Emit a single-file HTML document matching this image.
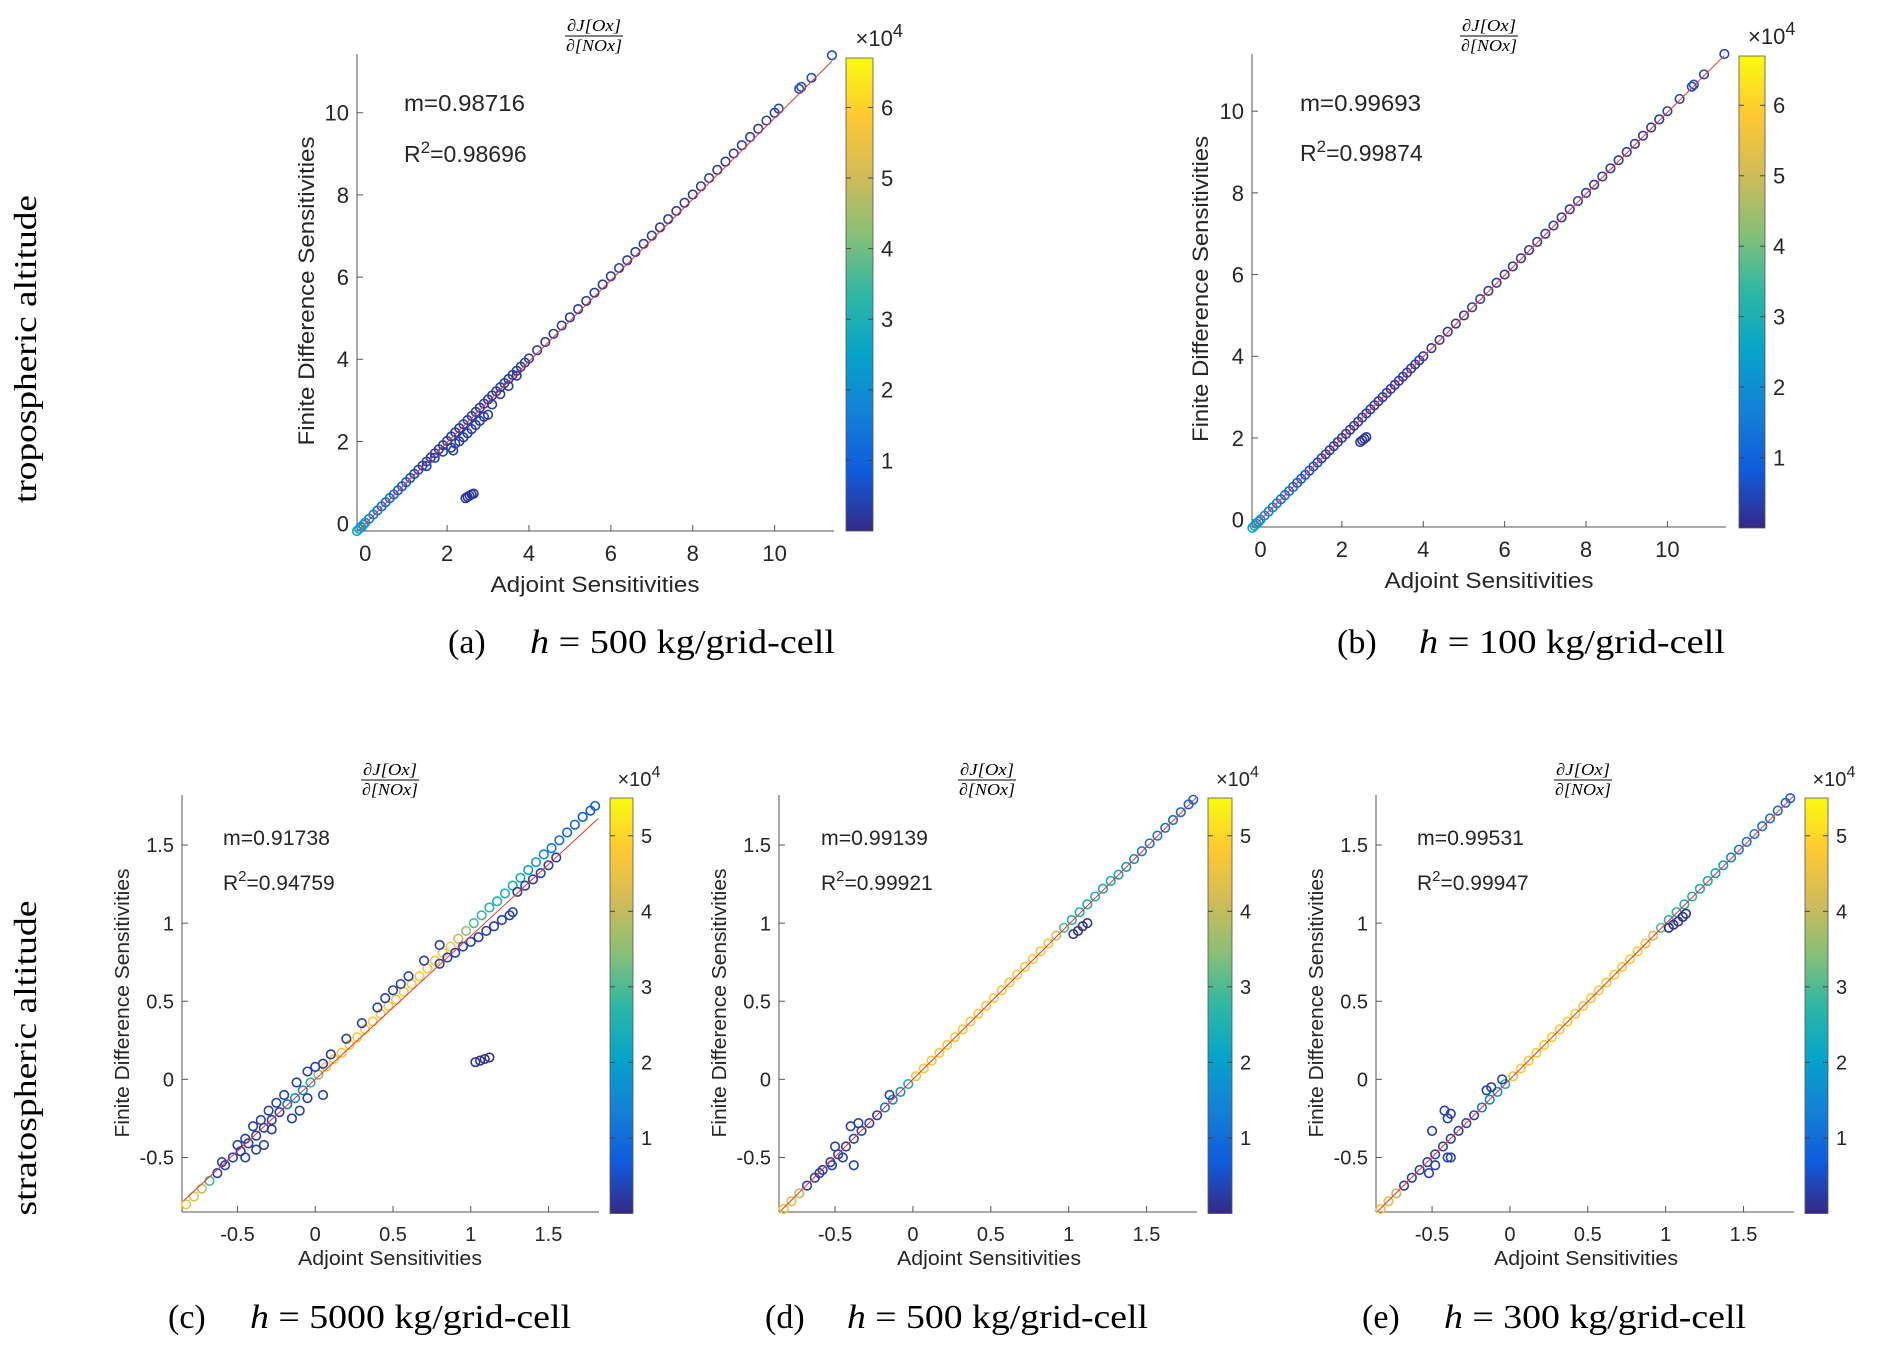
<!DOCTYPE html>
<html><head><meta charset="utf-8">
<style>
html,body{margin:0;padding:0;background:#fff;}
svg{display:block;}
text{font-family:"Liberation Sans",Arial,sans-serif;fill:#262626;}
.serif{font-family:"Liberation Serif","Times New Roman",serif;fill:#000;}
</style></head>
<body>
<svg id="fig" width="1893" height="1355" viewBox="0 0 1893 1355" xmlns="http://www.w3.org/2000/svg">
<defs>
<linearGradient id="parula" x1="0" y1="1" x2="0" y2="0">
<stop offset="0" stop-color="#352a87"/><stop offset="0.125" stop-color="#0f5cdd"/>
<stop offset="0.25" stop-color="#1481d6"/><stop offset="0.375" stop-color="#06a4ca"/>
<stop offset="0.5" stop-color="#2eb7a4"/><stop offset="0.625" stop-color="#87bf77"/>
<stop offset="0.75" stop-color="#d1bb59"/><stop offset="0.875" stop-color="#fec832"/>
<stop offset="1" stop-color="#f9fb0e"/>
</linearGradient>
</defs>
<text class="serif" transform="translate(36,349) rotate(-90)" text-anchor="middle" font-size="32" textLength="308" lengthAdjust="spacingAndGlyphs">tropospheric altitude</text>
<text class="serif" transform="translate(36,1058) rotate(-90)" text-anchor="middle" font-size="32" textLength="315" lengthAdjust="spacingAndGlyphs">stratospheric altitude</text>
</svg>
<script>
// ---- data: panel (a) ----
const aX=[-0.2,-0.15,-0.1,-0.05,0,0.1,0.2,0.3,0.4,0.5,0.6,0.7,0.8,0.9,1,1.1,1.2,1.3,1.4,1.5,1.6,1.7,1.8,1.9,2,2.1,2.2,2.3,2.4,2.5,2.6,2.7,2.8,2.9,3,3.1,3.2,3.3,3.4,3.5,3.6,3.7,3.8,3.9,4,4.2,4.4,4.6,4.8,5,5.2,5.4,5.6,5.8,6,6.2,6.4,6.6,6.8,7,7.2,7.4,7.6,7.8,8,8.2,8.4,8.6,8.8,9,9.2,9.4,9.6,9.8,10,10.1,10.6,10.65,10.9,11.4,
 1.5,1.7,1.9,2.1,2.15,2.2,2.3,2.4,2.5,2.6,2.7,2.8,2.9,3.0,3.1,3.3,3.5,3.7,2.45,2.5,2.55,2.6,2.65];
const aY=[-0.18,-0.13,-0.08,-0.03,0.02,0.12,0.22,0.32,0.42,0.52,0.62,0.71,0.81,0.91,1.01,1.11,1.21,1.31,1.41,1.51,1.61,1.71,1.81,1.91,2.01,2.12,2.22,2.32,2.42,2.52,2.62,2.72,2.82,2.92,3.02,3.12,3.22,3.32,3.42,3.52,3.62,3.72,3.82,3.92,4.02,4.22,4.42,4.62,4.82,5.02,5.22,5.42,5.62,5.82,6.02,6.22,6.41,6.61,6.81,7.01,7.21,7.41,7.61,7.81,8.01,8.21,8.41,8.61,8.81,9.01,9.21,9.41,9.61,9.81,10.0,10.1,10.58,10.63,10.85,11.4,
 1.4,1.6,1.75,1.85,1.78,1.95,2.0,2.1,2.2,2.3,2.4,2.5,2.6,2.65,2.9,3.15,3.35,3.6,0.62,0.65,0.68,0.71,0.73];
const aC=[2.6,2.5,2.4,2.2,2.0,1.6,1.5,1.4,1.3,1.2,1.1,1.0,0.9,0.8,0.7,0.6,0.5,0.5,0.4,0.4,0.4,0.3,0.3,0.3,0.3,0.3,0.3,0.3,0.3,0.3,0.3,0.3,0.3,0.3,0.3,0.3,0.3,0.3,0.3,0.3,0.3,0.3,0.3,0.3,0.3,0.3,0.3,0.3,0.3,0.3,0.3,0.3,0.3,0.3,0.3,0.3,0.3,0.3,0.3,0.3,0.3,0.3,0.3,0.3,0.3,0.3,0.3,0.3,0.3,0.3,0.3,0.3,0.3,0.3,0.4,0.5,0.6,0.6,0.6,0.6,
 0.5,0.5,0.4,0.4,0.3,0.3,0.3,0.3,0.3,0.3,0.3,0.3,0.3,0.3,0.3,0.3,0.3,0.3,0.2,0.2,0.2,0.2,0.2];
// ---- data: panel (b) ----
const bX=[-0.2,-0.15,-0.1,-0.05,0,0.1,0.2,0.3,0.4,0.5,0.6,0.7,0.8,0.9,1,1.1,1.2,1.3,1.4,1.5,1.6,1.7,1.8,1.9,2,2.1,2.2,2.3,2.4,2.5,2.6,2.7,2.8,2.9,3,3.1,3.2,3.3,3.4,3.5,3.6,3.7,3.8,3.9,4,4.2,4.4,4.6,4.8,5,5.2,5.4,5.6,5.8,6,6.2,6.4,6.6,6.8,7,7.2,7.4,7.6,7.8,8,8.2,8.4,8.6,8.8,9,9.2,9.4,9.6,9.8,10,10.3,10.6,10.65,10.9,11.4,
 2.45,2.5,2.55,2.6];
const bY=[-0.2,-0.15,-0.1,-0.05,0.0,0.1,0.2,0.3,0.4,0.5,0.6,0.7,0.8,0.9,1.0,1.1,1.2,1.3,1.4,1.5,1.6,1.7,1.8,1.9,2.0,2.1,2.2,2.3,2.4,2.5,2.6,2.7,2.8,2.9,3.0,3.1,3.2,3.3,3.4,3.5,3.6,3.7,3.8,3.9,4.0,4.2,4.4,4.6,4.8,5.0,5.2,5.4,5.6,5.8,6.0,6.2,6.4,6.6,6.8,7.0,7.2,7.4,7.6,7.8,8.0,8.2,8.4,8.6,8.8,9.0,9.2,9.4,9.6,9.8,10.0,10.3,10.6,10.65,10.9,11.4,
 1.9,1.94,1.98,2.02];
const bC=[2.6,2.5,2.4,2.2,2.0,1.8,1.7,1.6,1.5,1.4,1.3,1.2,1.1,1.0,0.9,0.8,0.7,0.6,0.5,0.4,0.4,0.3,0.3,0.3,0.3,0.3,0.3,0.3,0.3,0.3,0.3,0.3,0.3,0.3,0.3,0.3,0.3,0.3,0.3,0.3,0.3,0.3,0.3,0.3,0.3,0.3,0.3,0.3,0.3,0.3,0.3,0.3,0.3,0.3,0.3,0.3,0.3,0.3,0.3,0.3,0.3,0.3,0.3,0.3,0.3,0.3,0.3,0.3,0.3,0.3,0.3,0.3,0.3,0.3,0.4,0.5,0.6,0.6,0.6,0.6,
 0.2,0.2,0.2,0.2];
// ---- data: panel (c) ----
const cX=[-0.83,-0.78,-0.73,-0.68,-0.63,-0.58,-0.53,-0.48,-0.43,-0.38,-0.33,-0.28,-0.23,-0.18,-0.13,-0.08,-0.03,0.02,0.07,0.12,0.17,0.22,0.27,0.32,0.37,0.42,0.47,0.52,0.57,0.62,0.67,0.72,0.77,0.82,0.87,0.92,0.97,1.02,1.07,1.12,1.17,1.22,1.27,1.32,1.37,1.42,1.47,1.52,1.57,1.62,1.67,1.72,1.77,1.8,
 -0.6,-0.5,-0.45,-0.4,-0.35,-0.3,-0.25,-0.2,-0.12,-0.05,0.0,0.05,0.1,0.2,0.3,0.4,0.45,0.5,0.55,0.6,0.7,0.8,
 -0.45,-0.38,-0.33,-0.28,-0.15,-0.1,-0.05,0.05,
 0.8,0.85,0.9,0.95,1.0,1.05,1.1,1.15,1.2,1.25,1.27,1.3,1.35,1.4,1.45,1.5,1.55,
 1.03,1.06,1.09,1.12];
const cY=[-0.80,-0.75,-0.70,-0.65,-0.60,-0.55,-0.50,-0.46,-0.41,-0.36,-0.31,-0.26,-0.21,-0.16,-0.12,-0.07,-0.02,0.03,0.08,0.13,0.17,0.22,0.27,0.32,0.37,0.42,0.47,0.51,0.56,0.61,0.66,0.71,0.76,0.81,0.85,0.90,0.95,1.00,1.05,1.10,1.14,1.19,1.24,1.29,1.34,1.39,1.44,1.48,1.53,1.58,1.63,1.68,1.72,1.75,
 -0.53,-0.42,-0.38,-0.3,-0.26,-0.2,-0.15,-0.1,-0.02,0.05,0.08,0.1,0.16,0.26,0.36,0.46,0.52,0.57,0.61,0.66,0.76,0.86,
 -0.5,-0.45,-0.42,-0.32,-0.25,-0.2,-0.12,-0.1,
 0.74,0.78,0.81,0.85,0.88,0.91,0.95,0.98,1.02,1.05,1.07,1.2,1.24,1.28,1.32,1.37,1.42,
 0.11,0.12,0.13,0.14];
const cC=[4.6,4.4,4.0,3.0,0.3,0.3,0.3,0.3,0.3,0.3,0.3,0.3,0.3,1.2,1.6,1.8,2.5,3.5,4.8,4.8,4.8,4.8,4.8,4.8,4.8,4.8,4.8,4.8,4.8,4.8,4.8,4.8,4.8,4.8,4.8,4.2,3.5,3.0,2.8,2.7,2.6,2.5,2.4,2.2,2.0,1.8,1.6,1.2,1.0,0.9,0.8,0.7,0.7,0.8,
 0.3,0.3,0.3,0.3,0.3,0.3,0.3,0.3,0.3,0.3,0.3,0.3,0.3,0.3,0.3,0.3,0.3,0.3,0.3,0.3,0.3,0.3,
 0.3,0.3,0.3,0.3,0.3,0.3,0.3,0.3,
 0.3,0.3,0.3,0.3,0.3,0.3,0.3,0.3,0.3,0.3,0.3,0.3,0.3,0.3,0.3,0.3,0.3,
 0.1,0.1,0.1,0.1];
// ---- data: panel (d) ----
const dX=[-0.83,-0.78,-0.73,-0.68,-0.63,-0.58,-0.53,-0.48,-0.43,-0.38,-0.33,-0.28,-0.23,-0.18,-0.13,-0.08,-0.03,0.02,0.07,0.12,0.17,0.22,0.27,0.32,0.37,0.42,0.47,0.52,0.57,0.62,0.67,0.72,0.77,0.82,0.87,0.92,0.97,1.02,1.07,1.12,1.17,1.22,1.27,1.32,1.37,1.42,1.47,1.52,1.57,1.62,1.67,1.72,1.77,1.8,
 -0.35,-0.4,-0.45,-0.38,-0.5,-0.52,-0.15,-0.6,
 1.03,1.06,1.09,1.12];
const dY=[-0.83,-0.78,-0.73,-0.68,-0.63,-0.58,-0.53,-0.48,-0.43,-0.38,-0.33,-0.28,-0.23,-0.18,-0.13,-0.08,-0.03,0.02,0.07,0.12,0.17,0.22,0.27,0.32,0.37,0.42,0.47,0.52,0.57,0.62,0.67,0.72,0.77,0.82,0.87,0.92,0.97,1.02,1.07,1.12,1.17,1.22,1.27,1.31,1.36,1.41,1.46,1.51,1.56,1.61,1.66,1.71,1.76,1.79,
 -0.28,-0.3,-0.5,-0.55,-0.43,-0.55,-0.1,-0.6,
 0.93,0.95,0.98,1.0];
const dC=[4.6,4.4,4.0,0.3,0.3,0.3,0.3,0.3,0.3,0.3,0.3,0.3,0.3,1.2,1.5,1.8,2.5,4.6,4.8,4.8,4.8,4.8,4.8,4.8,4.8,4.8,4.8,4.8,4.8,4.8,4.8,4.8,4.8,4.8,4.6,4.2,3.0,2.5,2.5,2.5,2.5,2.4,2.3,2.2,2.0,1.5,1.3,1.2,1.2,1.1,1.0,0.9,0.9,0.9,
 0.3,0.3,0.3,0.3,0.3,0.3,0.3,0.3,
 0.1,0.1,0.1,0.1];
// ---- data: panel (e) ----
const eX=[-0.83,-0.78,-0.73,-0.68,-0.63,-0.58,-0.53,-0.48,-0.43,-0.38,-0.33,-0.28,-0.23,-0.18,-0.13,-0.08,-0.03,0.02,0.07,0.12,0.17,0.22,0.27,0.32,0.37,0.42,0.47,0.52,0.57,0.62,0.67,0.72,0.77,0.82,0.87,0.92,0.97,1.02,1.07,1.12,1.17,1.22,1.27,1.32,1.37,1.42,1.47,1.52,1.57,1.62,1.67,1.72,1.77,1.8,
 -0.42,-0.38,-0.4,-0.5,-0.52,-0.48,-0.4,-0.38,-0.12,-0.15,-0.05,
 1.02,1.05,1.08,1.11,1.13];
const eY=[-0.83,-0.78,-0.73,-0.68,-0.63,-0.58,-0.53,-0.48,-0.43,-0.38,-0.33,-0.28,-0.23,-0.18,-0.13,-0.08,-0.03,0.02,0.07,0.12,0.17,0.22,0.27,0.32,0.37,0.42,0.47,0.52,0.57,0.62,0.67,0.72,0.77,0.82,0.87,0.92,0.97,1.02,1.07,1.12,1.17,1.22,1.27,1.32,1.37,1.42,1.47,1.52,1.57,1.62,1.67,1.72,1.77,1.8,
 -0.2,-0.22,-0.25,-0.33,-0.6,-0.55,-0.5,-0.5,-0.05,-0.07,0.0,
 0.97,0.99,1.01,1.04,1.06];
const eC=[4.6,4.4,4.0,0.3,0.3,0.3,0.3,0.3,0.3,0.3,0.3,0.3,0.3,1.2,1.5,1.8,2.5,4.6,4.8,4.8,4.8,4.8,4.8,4.8,4.8,4.8,4.8,4.8,4.8,4.8,4.8,4.8,4.8,4.8,4.6,4.2,3.0,2.5,2.5,2.5,2.5,2.4,2.3,2.2,2.0,1.5,1.3,1.2,1.2,1.1,1.0,0.9,0.9,0.9,
 0.3,0.3,0.3,0.3,0.3,0.3,0.3,0.3,0.3,0.3,0.3,
 0.1,0.1,0.1,0.1,0.1];
// ---- fit slopes & stats text ----
const fitSlopes=[0.98716,0.99693,0.91738,0.99139,0.99531];
const mLabels=["m=0.98716","m=0.99693","m=0.91738","m=0.99139","m=0.99531"];
const r2Labels=["0.98696","0.99874","0.94759","0.99921","0.99947"];
const captionIds=["(a)","(b)","(c)","(d)","(e)"];
const captionRest=[" = 500 kg/grid-cell"," = 100 kg/grid-cell"," = 5000 kg/grid-cell"," = 500 kg/grid-cell"," = 300 kg/grid-cell"];
const topTicks=[0,2,4,6,8,10];
const botTicks=[-0.5,0,0.5,1,1.5];
const botTickLabels=["-0.5","0","0.5","1","1.5"];
const topCbTicks=[1,2,3,4,5,6];
const botCbTicks=[1,2,3,4,5];

const NS="http://www.w3.org/2000/svg";
const svg=document.getElementById('fig');
function el(tag,attrs,parent){const e=document.createElementNS(NS,tag);for(const k in attrs)e.setAttribute(k,attrs[k]);(parent||svg).appendChild(e);return e;}
const stops=[[0,[53,42,135]],[0.125,[15,92,221]],[0.25,[20,129,214]],[0.375,[6,164,202]],[0.5,[46,183,164]],[0.625,[135,191,119]],[0.75,[209,187,89]],[0.875,[254,200,50]],[1,[249,251,14]]];
function parula(t){t=Math.max(0,Math.min(1,t));for(let i=1;i<stops.length;i++){if(t<=stops[i][0]){const a=stops[i-1],b=stops[i];const f=(t-a[0])/(b[0]-a[0]);const c=a[1].map((v,j)=>Math.round(v+(b[1][j]-v)*f));return 'rgb('+c.join(',')+')';}}return 'rgb(249,251,14)';}

const panels=[
 {id:'a',X:aX,Y:aY,C:aC,L:357,T:54,W:477,H:477,x0:-0.2,x1:11.45,y0:-0.18,y1:11.43,cbx:846,cbw:27,cbt:58,cbb:531,cmax:6.7,top:true,
  ylx:306,yly:291,yll:309,xlx:595,xlb:592,xll:209,mx:404,mb:111,rb:162,ml:121,rl:128,tx:594,tt:31,cap:448,capb:653,capEnd:835,fs:22},
 {id:'b',X:bX,Y:bY,C:bC,L:1252,T:54,W:474,H:473,x0:-0.21,x1:11.44,y0:-0.18,y1:11.4,cbx:1739,cbw:26,cbt:56,cbb:528,cmax:6.7,top:true,
  ylx:1200,yly:289,yll:306,xlx:1489,xlb:588,xll:209,mx:1300,mb:111,rb:161,ml:121,rl:128,tx:1489,tt:31,cap:1337,capb:653,capEnd:1725,fs:22},
 {id:'c',X:cX,Y:cY,C:cC,L:182,T:795,W:417,H:417,x0:-0.857,x1:1.825,y0:-0.849,y1:1.82,cbx:610,cbw:23,cbt:798,cbb:1213.5,cmax:5.5,top:false,
  ylx:122,yly:1003,yll:269,xlx:390,xlb:1265,xll:184,mx:223,mb:845,rb:890,ml:107,rl:112,tx:390,tt:775,cap:168,capb:1328,capEnd:571,fs:20},
 {id:'d',X:dX,Y:dY,C:dC,L:779,T:795,W:418,H:417,x0:-0.86,x1:1.824,y0:-0.849,y1:1.82,cbx:1208,cbw:24,cbt:798,cbb:1213.5,cmax:5.5,top:false,
  ylx:719,yly:1003,yll:269,xlx:989,xlb:1265,xll:184,mx:821,mb:845,rb:890,ml:107,rl:112,tx:987,tt:775,cap:765,capb:1328,capEnd:1148,fs:20},
 {id:'e',X:eX,Y:eY,C:eC,L:1376,T:795,W:418,H:417,x0:-0.86,x1:1.824,y0:-0.849,y1:1.82,cbx:1805,cbw:23,cbt:798,cbb:1213.5,cmax:5.5,top:false,
  ylx:1316,yly:1003,yll:269,xlx:1586,xlb:1265,xll:184,mx:1417,mb:845,rb:890,ml:107,rl:112,tx:1583,tt:775,cap:1362,capb:1328,capEnd:1746,fs:20}
];

panels.forEach((p,pi)=>{
 const g=el('g',{});
 
 
 const sx=v=>p.L+(v-p.x0)/(p.x1-p.x0)*p.W;
 const sy=v=>p.T+p.H-(v-p.y0)/(p.y1-p.y0)*p.H;
 const B=p.T+p.H;
 const ya=el('line',{x1:p.L,y1:p.T,x2:p.L,y2:B,stroke:'#555',"stroke-width":1},g);
 
 const xa=el('line',{x1:p.L,y1:B,x2:p.L+p.W,y2:B,stroke:'#555',"stroke-width":1},g);
 
 const ticks=p.top?topTicks:botTicks;
 ticks.forEach((t,i)=>{
  const lab=p.top?String(t):botTickLabels[i];
  el('line',{x1:sx(t),y1:B,x2:sx(t),y2:B-6,stroke:'#555'},g);
  const xt=el('text',{x:sx(t),y:B+(p.top?30:29),"text-anchor":"middle","font-size":p.fs},g);
  xt.textContent=lab;
  
  el('line',{x1:p.L,y1:sy(t),x2:p.L+6,y2:sy(t),stroke:'#555'},g);
  const yt=el('text',{x:p.L-8,y:sy(t)+p.fs*0.36,"text-anchor":"end","font-size":p.fs},g);
  yt.textContent=lab;
  
 });
 const xl=el('text',{x:p.xlx,y:p.xlb,"text-anchor":"middle","font-size":p.fs,textLength:p.xll,lengthAdjust:"spacingAndGlyphs"},g);
 xl.textContent='Adjoint Sensitivities';
 
 const yl=el('text',{transform:`translate(${p.ylx+p.fs*0.36},${p.yly}) rotate(-90)`,"text-anchor":"middle","font-size":p.fs,textLength:p.yll,lengthAdjust:"spacingAndGlyphs"},g);
 yl.textContent='Finite Difference Sensitivities';
 
 const sg=el('g',{fill:'none',"stroke-width":1.6},g);
 
 for(let i=0;i<p.X.length;i++){
  const c=el('circle',{cx:sx(p.X[i]),cy:sy(p.Y[i]),r:4.3,stroke:parula(p.C[i]/p.cmax)},sg);
  
  
 }
 const xe=p.top?11.4:1.82;
 const fl=el('line',{x1:sx(p.x0+0.01),y1:sy(fitSlopes[pi]*(p.x0+0.01)),x2:sx(xe),y2:sy(fitSlopes[pi]*xe),stroke:'#e8352f',"stroke-width":1},g);
 
 const mt=el('text',{x:p.mx,y:p.mb,"font-size":p.fs+1,fill:'#000',textLength:p.ml,lengthAdjust:"spacingAndGlyphs"},g);
 mt.textContent=mLabels[pi];
 
 const rt=el('text',{x:p.mx,y:p.rb,"font-size":p.fs+1,fill:'#000'},g);
 rt.innerHTML='R<tspan dy="-9" font-size="'+(p.fs-5)+'">2</tspan><tspan dy="9">='+r2Labels[pi]+'</tspan>';
 
 const tg=el('g',{},g);
 
 const tn=el('text',{x:p.tx,y:p.tt,"text-anchor":"middle","font-size":17,"font-style":"italic",class:"serif",textLength:54,lengthAdjust:"spacingAndGlyphs"},tg);
 tn.textContent='\u2202J[Ox]';
 el('line',{x1:p.tx-29,y1:p.tt+5,x2:p.tx+29,y2:p.tt+5,stroke:'#000',"stroke-width":0.9},tg);
 const td=el('text',{x:p.tx,y:p.tt+20,"text-anchor":"middle","font-size":17,"font-style":"italic",class:"serif",textLength:56,lengthAdjust:"spacingAndGlyphs"},tg);
 td.textContent='\u2202[NOx]';
 const cb=el('rect',{x:p.cbx,y:p.cbt,width:p.cbw,height:p.cbb-p.cbt,fill:'url(#parula)',stroke:'#555',"stroke-width":0.8},g);
 
 const cbt=p.top?topCbTicks:botCbTicks;
 cbt.forEach(t=>{
  const yy=p.cbb-(t/p.cmax)*(p.cbb-p.cbt);
  el('line',{x1:p.cbx+p.cbw-5,y1:yy,x2:p.cbx+p.cbw,y2:yy,stroke:'#444'},g);
  el('line',{x1:p.cbx,y1:yy,x2:p.cbx+5,y2:yy,stroke:'#444'},g);
  const ct=el('text',{x:p.cbx+p.cbw+8,y:yy+p.fs*0.36,"font-size":p.fs},g);
  ct.textContent=String(t);
  
 });
 const ex=el('text',{x:p.cbx+p.cbw/2-4,y:p.cbt-12,"font-size":p.fs},g);
 ex.innerHTML='\u00d710<tspan dy="-9" font-size="'+(p.fs-4)+'">4</tspan>';
 
 const cg=el('g',{},g);
 
 const c1=el('text',{x:p.cap,y:p.capb,"font-size":34,class:"serif"},cg);
 c1.textContent=captionIds[pi];
 const c2=el('text',{x:p.cap+82,y:p.capb,"font-size":34,class:"serif",textLength:p.capEnd-p.cap-82,lengthAdjust:"spacingAndGlyphs"},cg);
 c2.innerHTML='<tspan font-style="italic">h</tspan>'+captionRest[pi];
});
</script>
</body></html>
